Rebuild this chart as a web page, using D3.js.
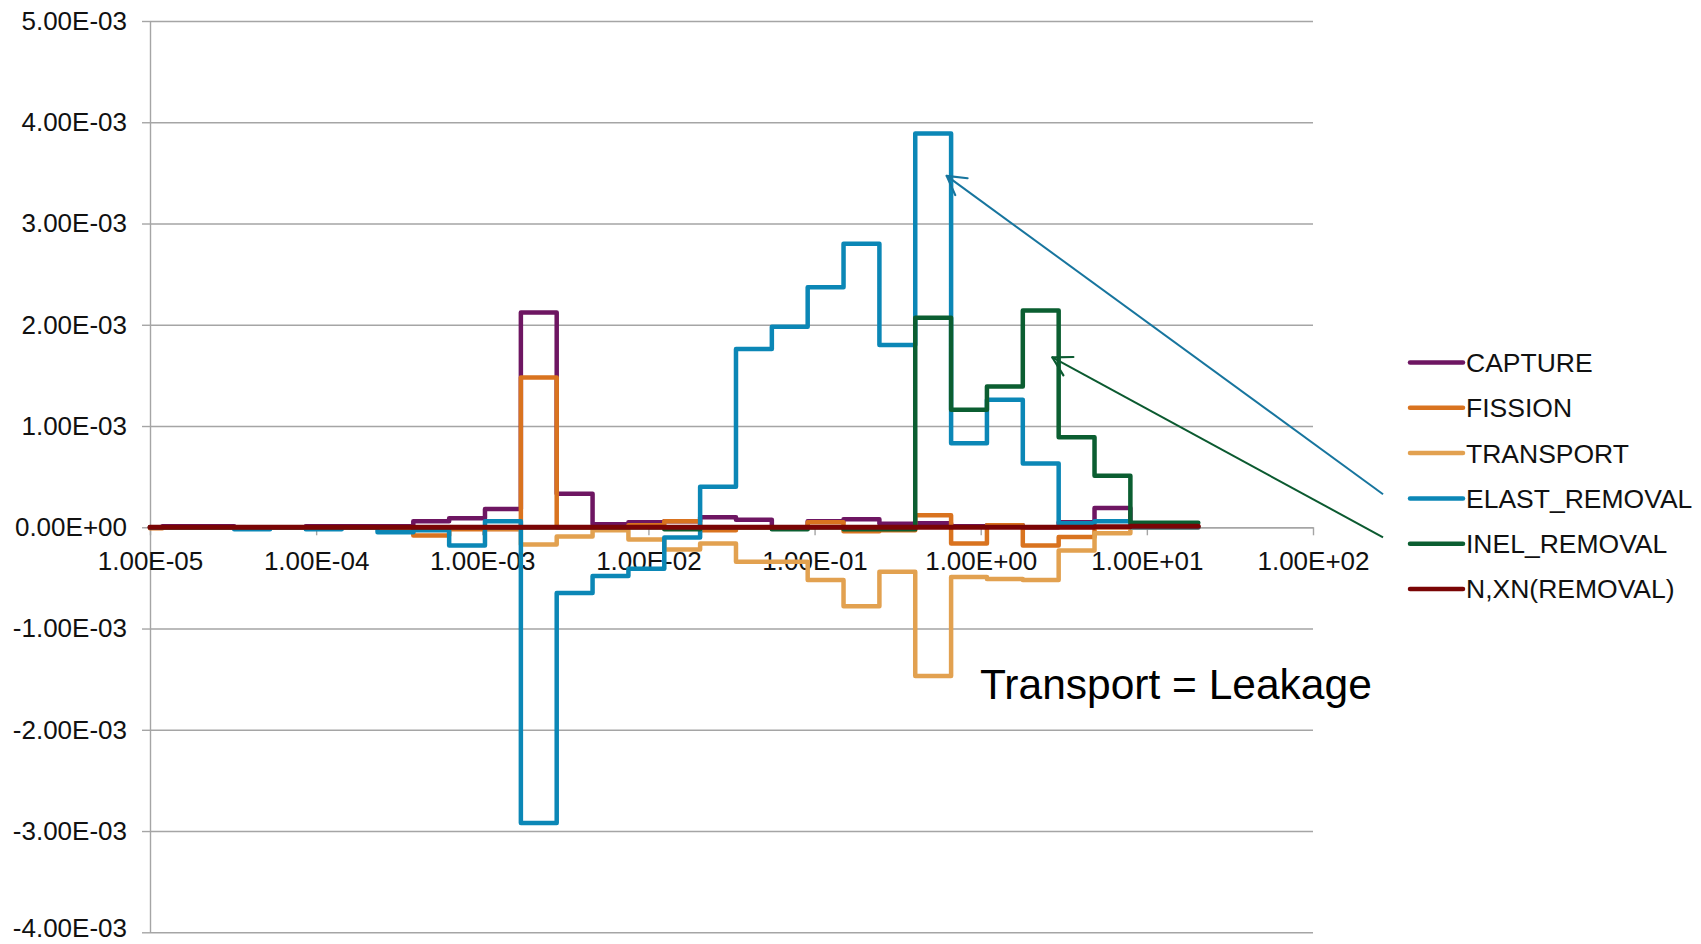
<html lang="en">
<head>
<meta charset="utf-8">
<title>Reaction rate differences by energy group</title>
<style>
  body { margin: 0; background: #fff; }
  svg { display: block; }
  .axis text { font-family: "Liberation Sans", Arial, sans-serif; font-size: 26px; fill: #111; }
  .axis path, .axis line { stroke: #a5a5a5; stroke-width: 1.4px; }
  .grid path { display: none; }
  .grid line { stroke: #a5a5a5; stroke-width: 1.4px; }
  .legend text { font-family: "Liberation Sans", Arial, sans-serif; font-size: 26.5px; fill: #111; }
</style>
<script src="https://cdn.jsdelivr.net/npm/d3@7"></script>
</head>
<body>
<svg id="chart" width="1701" height="944"></svg>
<script>
// group boundaries (MeV)
var edges = [1.000e-5, 1.189e-5, 1.953e-5, 3.211e-5, 5.277e-5, 8.666e-5, 1.425e-4, 2.341e-4,
             3.844e-4, 6.318e-4, 1.038e-3, 1.707e-3, 2.805e-3, 4.611e-3, 7.578e-3, 1.246e-2,
             2.047e-2, 3.365e-2, 5.531e-2, 9.090e-2, 0.1494, 0.2456, 0.4036, 0.6634,
             1.090, 1.792, 2.946, 4.842, 7.958, 13.08, 20.4];

// values per group, in units of 1E-03
var capture   = [0, 0.01, 0.01, 0, 0, 0.01, 0.01, 0.01, 0.06, 0.09, 0.18, 2.12, 0.33, 0.03, 0.05,
                 0.06, 0.10, 0.075, 0, 0.06, 0.08, 0.035, 0.04, 0.01, 0.02, 0, 0.05, 0.19, 0, 0];
var fission   = [-0.01, 0, 0, 0, 0, 0, 0, 0, -0.08, -0.02, -0.02, 1.48, 0, 0, 0.02,
                 0.06, -0.03, 0, 0, 0.05, -0.04, -0.03, 0.12, -0.16, 0.02, -0.18, -0.095, 0, 0, 0];
var transport = [0, 0, 0, 0, 0, 0, 0, 0, 0, 0, -0.01, -0.17, -0.09, -0.03, -0.12,
                 -0.22, -0.16, -0.34, -0.34, -0.52, -0.78, -0.44, -1.47, -0.49, -0.51, -0.52, -0.23, -0.06, 0, 0];
var elast     = [0, 0, 0, -0.02, 0, -0.02, 0, -0.05, -0.03, -0.18, 0.06, -2.92, -0.65, -0.48, -0.41,
                 -0.10, 0.40, 1.76, 1.98, 2.37, 2.80, 1.80, 3.89, 0.83, 1.26, 0.63, 0.04, 0.06, 0, 0];
var inel      = [0, 0, 0, 0, 0, 0, 0, 0, 0, 0, 0, 0, 0, 0, 0,
                 -0.02, 0, 0, -0.02, 0, -0.02, -0.02, 2.07, 1.16, 1.39, 2.14, 0.89, 0.51, 0.045, 0.045];
var nxn       = [0, 0, 0, 0, 0, 0, 0, 0, 0, 0, 0, 0, 0, 0, 0,
                 0, 0, 0, 0, 0, 0, 0, 0, 0, 0, 0, 0, 0.005, 0.01, 0.01];

var seriesNames  = ["CAPTURE", "FISSION", "TRANSPORT", "ELAST_REMOVAL", "INEL_REMOVAL", "N,XN(REMOVAL)"];
var seriesValues = [capture, fission, transport, elast, inel, nxn];
var seriesColors = ["#6e1662", "#d9731f", "#e2a150", "#0b87b6", "#0b5e31", "#7a0505"];

var xTicks = [1e-5, 1e-4, 1e-3, 1e-2, 1e-1, 1e0, 1e1, 1e2];
var yTicks = [-4, -3, -2, -1, 0, 1, 2, 3, 4, 5];   // x 1E-03
var unit = 1e-3;

// arrows: tail -> tip, in data coordinates (MeV, value)
var arrowFrom  = [[264, 0.326e-3], [264, -0.099e-3]];
var arrowTo    = [[0.624, 3.47e-3], [2.70, 1.677e-3]];
var arrowColor = ["#17759e", "#0b5a30"];
var noteText = "Transport = Leakage";
var notePos  = [0.99, -1.70e-3];

var svg = d3.select("#chart");

var x = d3.scaleLog().domain([1e-5, 1e2]).range([150, 1313]);
var y = d3.scaleLinear().domain([-4e-3, 5e-3]).range([932.3, 21]);

// format like 1.00E-03
function fmtE(v) {
  if (Math.abs(v) < 1e-12) return "0.00E+00";
  var e = Math.floor(Math.log10(Math.abs(v)) + 1e-9);
  var m = v / Math.pow(10, e);
  return m.toFixed(2) + "E" + (e < 0 ? "-" : "+") + String(Math.abs(e)).padStart(2, "0");
}

// gridlines
svg.append("g")
  .attr("class", "grid")
  .attr("transform", "translate(150,0)")
  .call(d3.axisLeft(y).tickValues(yTicks.map(d => d * unit)).tickSize(-(1313 - 150)).tickFormat(""));

// y axis with labels
var yAxisG = svg.append("g")
  .attr("class", "axis")
  .attr("transform", "translate(150,0)")
  .call(d3.axisLeft(y).tickValues(yTicks.map(d => d * unit)).tickSizeInner(8).tickSizeOuter(0)
    .tickPadding(15).tickFormat(fmtE));
// keep the bottom label inside the picture
yAxisG.selectAll(".tick text").filter(d => d < -3.5e-3).attr("dy", "0.16em");

// x axis on the zero line
svg.append("g")
  .attr("class", "axis")
  .attr("transform", "translate(0," + y(0) + ")")
  .call(d3.axisBottom(x).tickValues(xTicks).tickSizeInner(8).tickSizeOuter(0)
    .tickPadding(16).tickFormat(fmtE));

// step lines
var line = d3.line()
  .x(d => x(d[0]))
  .y(d => y(d[1] * unit))
  .curve(d3.curveStepAfter);

seriesValues.forEach(function(vals, s) {
  var pts = vals.map((v, i) => [edges[i], v]);
  pts.push([edges[edges.length - 1], vals[vals.length - 1]]);
  svg.append("path")
    .datum(pts)
    .attr("d", line)
    .attr("fill", "none")
    .attr("stroke", seriesColors[s])
    .attr("stroke-width", s == 5 ? 5 : 4.5)
    .attr("stroke-linejoin", "round")
    .attr("stroke-linecap", "round");
});

// arrows
arrowFrom.forEach(function(f, i) {
  var x1 = x(f[0]), y1 = y(f[1]);
  var x2 = x(arrowTo[i][0]), y2 = y(arrowTo[i][1]);
  svg.append("line")
    .attr("x1", x1).attr("y1", y1).attr("x2", x2).attr("y2", y2)
    .attr("stroke", arrowColor[i]).attr("stroke-width", 2);
  var ang = Math.atan2(y1 - y2, x1 - x2);
  [-0.52, 0.52].forEach(function(da) {
    svg.append("line")
      .attr("x1", x2).attr("y1", y2)
      .attr("x2", x2 + 21 * Math.cos(ang + da))
      .attr("y2", y2 + 21 * Math.sin(ang + da))
      .attr("stroke", arrowColor[i]).attr("stroke-width", 2.2)
      .attr("stroke-linecap", "round");
  });
});

svg.append("text")
  .attr("x", x(notePos[0]))
  .attr("y", y(notePos[1]))
  .style("font-family", "'Liberation Sans', Arial, sans-serif")
  .style("font-size", "42.5px")
  .style("fill", "#000")
  .text(noteText);

// legend
var legend = svg.append("g").attr("class", "legend");
seriesNames.forEach(function(name, i) {
  var ly = 362.5 + i * 45.3;
  legend.append("line")
    .attr("x1", 1410).attr("x2", 1463).attr("y1", ly).attr("y2", ly)
    .attr("stroke", seriesColors[i]).attr("stroke-width", 4.5)
    .attr("stroke-linecap", "round");
  legend.append("text")
    .attr("x", 1466).attr("y", ly + 9.4)
    .text(name);
});
</script>
</body>
</html>
